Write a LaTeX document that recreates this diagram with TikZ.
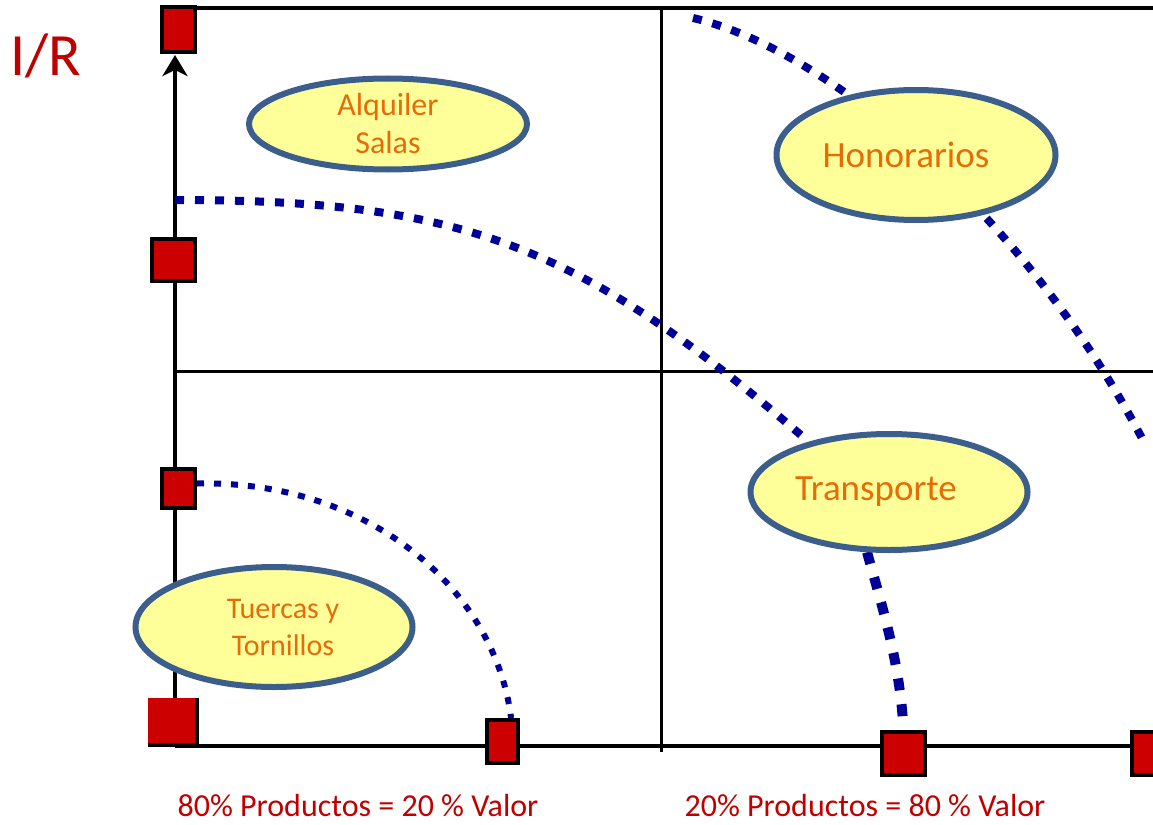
\documentclass[tikz,border=0pt]{standalone}
\usepackage{fontspec}
\setmainfont{Carlito}
\usetikzlibrary{shapes.geometric,arrows.meta}

\definecolor{boxred}{HTML}{CC0000}
\definecolor{labelred}{HTML}{C00000}
\definecolor{txtorange}{HTML}{E46C0A}
\definecolor{ovalfill}{HTML}{FFFF99}
\definecolor{ovalline}{HTML}{3B5E8C}
\definecolor{dotblue}{HTML}{000099}

\pgfdeclarelayer{bg}
\pgfsetlayers{bg,main}

\tikzset{
  marker/.style={draw=black,fill=boxred,line width=4pt,inner sep=0pt},
  oval/.style={ellipse,draw=ovalline,fill=ovalfill,line width=6pt,inner sep=0pt,
    text=txtorange,align=center},
  dotline/.style={dotblue,line width=#1},
  axis/.style={black,line width=3.5pt}
}

\begin{document}
\begin{tikzpicture}[x=1pt,y=-1pt]
\useasboundingbox (0,0) rectangle (1153,824);
\clip (0,0) rectangle (1153,824);

% ovals
\node[oval,minimum width=278pt,minimum height=91pt,font=\fontsize{32}{38}\selectfont] (alq) at (388,124) {Alquiler\\Salas};
\node[oval,minimum width=279pt,minimum height=130pt,font=\fontsize{37}{43}\selectfont] (hon) at (916,155) {Honorarios\hspace*{20pt}};
\node[oval,minimum width=277pt,minimum height=116pt,font=\fontsize{37}{43}\selectfont] (tra) at (889,492) {Transporte\hspace*{26pt}};
\node[oval,minimum width=277pt,minimum height=120pt,font=\fontsize{30}{37}\selectfont] (tue) at (274,627) {\hspace*{18pt}Tuercas y\\\hspace*{18pt}Tornillos};

% squares
\node[marker,minimum width=33pt,minimum height=45pt] (s1) at (178.5,29.5) {};
\node[marker,minimum width=43pt,minimum height=42pt] (s2) at (173.5,260) {};
\node[marker,minimum width=33pt,minimum height=39pt] (s3) at (178.5,488.5) {};
\node[fill=boxred,inner sep=0pt,minimum width=49pt,minimum height=47pt] (s4) at (172.5,721.5) {};
\draw[line width=3.5pt] (s4.north east) -- (s4.south east) -- (s4.south west);
\node[marker,minimum width=31pt,minimum height=43pt] (s5) at (502.5,741.5) {};
\node[marker,minimum width=43pt,minimum height=43pt] (s6) at (903.5,753.5) {};
\node[marker,minimum width=43pt,minimum height=43pt] (s7) at (1153.5,753.5) {};

\coordinate (tip) at (175,55);
\coordinate (c1) at (175,200);
\coordinate (h1) at (693,18);
\coordinate (h2) at (1146,446);

\begin{pgfonlayer}{bg}
% frame and axes
\draw[axis] (s1.east |- 0,8) -- (1153,8);
\draw[axis,line width=3pt] (661,10) -- (661,752);
\draw[axis,line width=3pt] (175,371) -- (1153,371);
\draw[axis] (175,746) -- (1153,746);
\draw[axis,line width=4.5pt,-{Stealth[length=21pt,width=25pt,inset=6pt]}] (175,746) -- (tip);

% dotted curves
\draw[dotline=8pt,dash pattern=on 9pt off 11pt] (c1) .. controls (459,200) and (579,242) .. (tra.148);
\draw[dotline=8pt,dash pattern=on 9pt off 11pt] (h1) .. controls (830,50) and (1030,220) .. (h2);
\draw[dotline=6pt,dash pattern=on 7pt off 10pt] ([yshift=5pt]s3.east) .. controls (370,480) and (495,590) .. (s5.70);
\draw[dotline=10pt,dash pattern=on 12pt off 14pt] (tra.250) .. controls (880,600) and (900,660) .. (s6.north);
\end{pgfonlayer}

% labels
\node[anchor=base,text=labelred,font=\fontsize{60}{70}\selectfont] (ir) at (46,76) {I/R};
\node[anchor=base,text=labelred,font=\fontsize{32}{38}\selectfont] (lab1) at (358,816) {80\% Productos = 20 \% Valor};
\node[anchor=base,text=labelred,font=\fontsize{32}{38}\selectfont] (lab2) at (865,816) {20\% Productos = 80 \% Valor};
\end{tikzpicture}
\end{document}
